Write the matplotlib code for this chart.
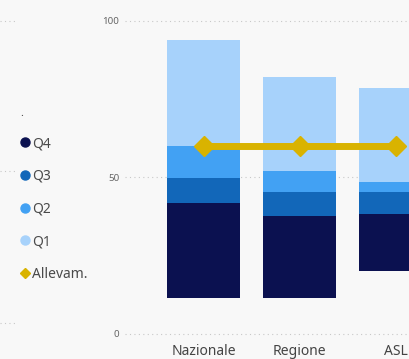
import matplotlib.pyplot as plt
from matplotlib.lines import Line2D

plt.rcParams['font.family'] = ['Noto Sans', 'DejaVu Sans']

# data
categories = ['Nazionale', 'Regione', 'ASL']
offset = [11.5, 11.5, 20.1]      # empty space under each stack
q4 = [30.4, 26.3, 18.2]
q3 = [7.9, 7.6, 7.1]
q2 = [10.2, 6.8, 3.2]
q1 = [33.9, 30.0, 29.9]
allevam = [60.2, 60.2, 60.2]
yticks = [0, 50, 100]

series = [('Q4', q4, '#0b1150'), ('Q3', q3, '#1267b9'),
          ('Q2', q2, '#42a1f3'), ('Q1', q1, '#a7d2fb')]

bg = '#f8f8f8'
fig = plt.figure(figsize=(4.10, 3.59), dpi=100, facecolor=bg)
ax = fig.add_axes([125 / 410, 19 / 359, 285 / 410, 340 / 359], facecolor=bg)

x = list(range(len(categories)))
bottom = list(offset)
for name, vals, col in series:
    ax.bar(x, vals, width=0.76, bottom=bottom, color=col, edgecolor='none', zorder=2)
    bottom = [b + v for b, v in zip(bottom, vals)]

ax.plot(x, allevam, color='#d9b300', lw=5, marker='D', ms=10, zorder=3,
        solid_capstyle='butt')

ax.set_xlim(-0.818, 2.151)
ax.set_ylim(-1.92, 106.7)
ax.set_yticks(yticks)
ax.set_xticks(x)
ax.set_xticklabels(categories, fontsize=10, color='#444444')
ax.tick_params(axis='y', length=0, pad=4, labelsize=7, labelcolor='#666666')
ax.tick_params(axis='x', length=0, pad=3)
ax.grid(axis='y', linestyle=(0, (1, 3)), color='#c8c8c8', lw=0.8, zorder=0)
for s in ax.spines.values():
    s.set_visible(False)

# faint gridline stubs from the neighbouring visual on the left
for yp in [21, 171, 323]:
    fig.add_artist(Line2D([0, 15 / 410], [1 - yp / 359] * 2, color='#c8c8c8',
                          lw=0.8, linestyle=(0, (1, 3))))

handles = [Line2D([], [], marker='o', color=c, ls='none', ms=6.5) for _, _, c in series]
handles.append(Line2D([], [], marker='D', color='#d9b300', ls='none', ms=5))
labels = [s[0] for s in series] + ['Allevam.']
leg = fig.legend(handles, labels, title='.', loc='upper left',
                 bbox_to_anchor=(8 / 410, 1 - 95 / 359), frameon=False,
                 fontsize=10, labelspacing=1.27, handlelength=0.6,
                 handletextpad=0.25, title_fontsize=8, alignment='left')
for t in leg.get_texts():
    t.set_color('#4a4a4a')
leg.get_title().set_color('#4a4a4a')

fig.savefig('out.png', dpi=100, facecolor=bg)
